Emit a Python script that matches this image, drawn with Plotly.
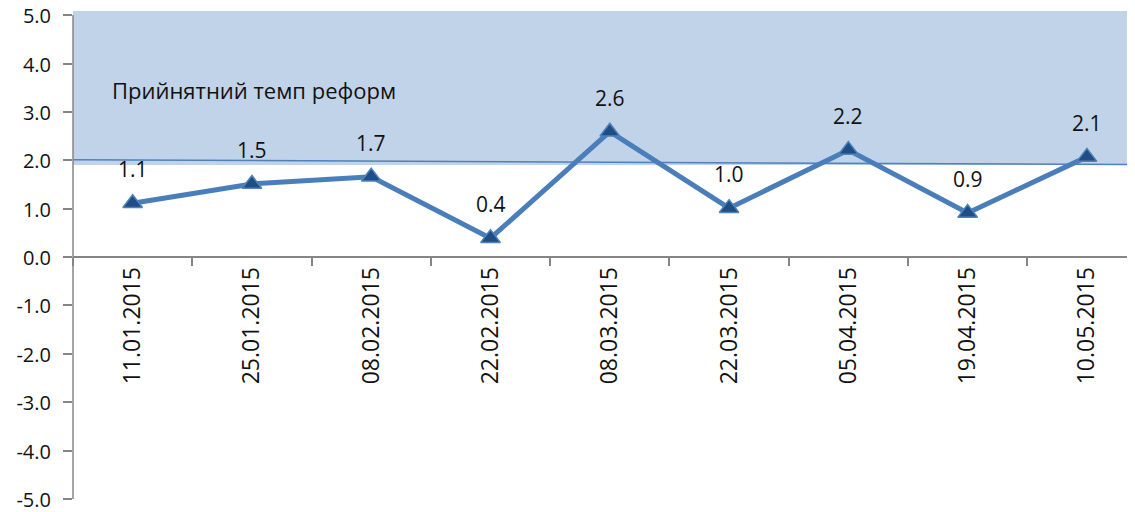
import plotly.graph_objects as go

dates = ["11.01.2015", "25.01.2015", "08.02.2015", "22.02.2015", "08.03.2015",
         "22.03.2015", "05.04.2015", "19.04.2015", "10.05.2015"]
values = [1.11, 1.51, 1.66, 0.39, 2.59, 1.01, 2.21, 0.91, 2.07]
threshold_start = 2.01
threshold_end = 1.91
shade_bottom = 1.9
shade_top = 5.085
y_min, y_max = -5.0, 5.085
y_ticks = [-5, -4, -3, -2, -1, 0, 1, 2, 3, 4, 5]
zone_label = "Прийнятний темп реформ"

FONT = "Open Sans"
line_col = "#4A7EBB"
marker_col = "#1F4E85"
axis_col = "#868686"

x_range = [-0.5, 8.403]

fig = go.Figure()

fig.add_trace(go.Scatter(
    x=dates, y=values, mode="lines+markers",
    line=dict(color=line_col, width=5),
    marker=dict(symbol="triangle-up", size=17, color=marker_col,
                line=dict(color="#4F81BD", width=1.5)),
    showlegend=False))

fig.add_shape(type="rect", xref="paper", yref="y", x0=0, x1=1,
              y0=shade_bottom, y1=shade_top, fillcolor="#C1D3E8",
              line=dict(width=0), layer="below")

# threshold line
fig.add_shape(type="line", xref="paper", yref="y", x0=0, x1=1,
              y0=threshold_start, y1=threshold_end,
              line=dict(color="#4F81BD", width=1.5), layer="below")

# y axis line from -5 to 5
fig.add_shape(type="line", xref="paper", yref="y", x0=0, x1=0,
              y0=-5, y1=5, line=dict(color=axis_col, width=1.5))

for d, v in zip(dates, values):
    fig.add_annotation(x=d, y=v, text=f"{v:.1f}", showarrow=False,
                       yshift=34, font=dict(family=FONT, size=21, color="#111"))

fig.add_annotation(xref="paper", yref="y", x=0.035, y=3.45, xanchor="left",
                   text=zone_label, showarrow=False,
                   font=dict(family=FONT, size=22, color="#111"))

zero_pos = (0 - y_min) / (y_max - y_min)

fig.update_layout(
    width=1127, height=504,
    margin=dict(l=65, r=0, t=3, b=13, autoexpand=False),
    plot_bgcolor="white", paper_bgcolor="white",
    xaxis=dict(type="category", range=x_range, anchor="free", position=zero_pos,
               showline=True, linecolor=axis_col, linewidth=1.5,
               ticks="outside", tickson="boundaries", ticklen=8,
               tickcolor=axis_col, tickwidth=1.5, automargin=False,
               tickangle=-90, showgrid=False, zeroline=False,
               tickfont=dict(family=FONT, size=23, color="#111")),
    yaxis=dict(range=[y_min - 0.001, y_max], tickvals=y_ticks,
               ticktext=[f"{t:.1f}" for t in y_ticks], automargin=False,
               ticklabeloverflow="allow", ticklabelshift=1,
               ticks="outside", ticklen=9, tickcolor=axis_col, ticklabelstandoff=8,
               tickwidth=1.5, showline=False, showgrid=False, zeroline=False,
               tickfont=dict(family=FONT, size=20, color="#111")),
)

fig.write_html("out.html")
